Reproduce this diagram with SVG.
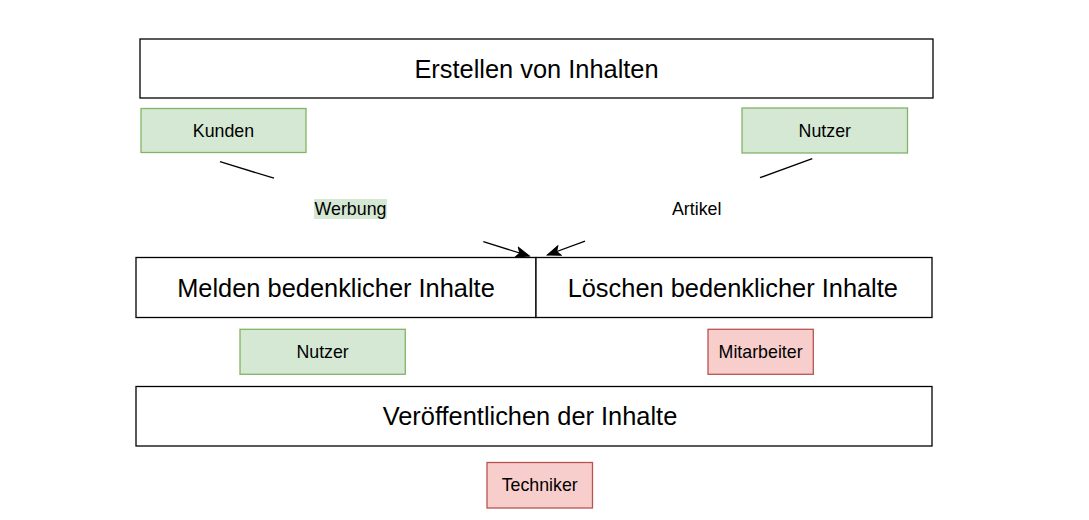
<svg xmlns="http://www.w3.org/2000/svg" width="1089" height="520" viewBox="0 0 1089 520">
<style>
.box{fill:#ffffff;stroke:#000000;stroke-width:1.3}
.green{fill:#d5e8d4;stroke:#82b366;stroke-width:1.3}
.red{fill:#f8cecc;stroke:#b85450;stroke-width:1.3}
.big{font-family:"Liberation Sans",Arial,sans-serif;font-size:25.4px;fill:#000;text-anchor:middle}
.small{font-family:"Liberation Sans",Arial,sans-serif;font-size:17.8px;fill:#000;text-anchor:middle}
.edge{stroke:#000;stroke-width:1.3;fill:none}
</style>
<defs>
<marker id="arrow" markerUnits="userSpaceOnUse" markerWidth="16" markerHeight="12" refX="14" refY="6" orient="auto" viewBox="0 0 16 12">
<path d="M14,6 L1,1 L4,6 L1,11 Z" fill="#000" stroke="#000" stroke-width="1"/>
</marker>
</defs>
<rect width="1089" height="520" fill="#ffffff"/>
<g id="erstellen">
<rect class="box" x="140" y="39" width="793" height="59"/>
<text class="big" x="536.5" y="77.6">Erstellen von Inhalten</text>
</g>
<g id="kunden">
<rect class="green" x="141" y="108.5" width="165" height="44"/>
<text class="small" x="223.5" y="136.9">Kunden</text>
</g>
<g id="nutzer-top">
<rect class="green" x="742" y="108" width="165.5" height="45"/>
<text class="small" x="824.8" y="136.9">Nutzer</text>
</g>
<g id="connectors">
<line class="edge" x1="220" y1="161.7" x2="274" y2="178.2"/>
<line class="edge" x1="483.3" y1="241.6" x2="529.3" y2="256" marker-end="url(#arrow)"/>
<line class="edge" x1="812.3" y1="158.7" x2="760" y2="177.7"/>
<line class="edge" x1="585" y1="241.2" x2="547.3" y2="255" marker-end="url(#arrow)"/>
</g>
<g id="label-werbung">
<rect x="314" y="199" width="73" height="20" fill="#d5e8d4"/>
<text class="small" x="350.5" y="215.4">Werbung</text>
</g>
<g id="label-artikel">
<text class="small" x="696.7" y="215.4">Artikel</text>
</g>
<g id="melden">
<rect class="box" x="136" y="257.5" width="400" height="60"/>
<text class="big" x="336" y="296.6">Melden bedenklicher Inhalte</text>
</g>
<g id="loeschen">
<rect class="box" x="536" y="257.5" width="396" height="60"/>
<text class="big" x="732.8" y="296.6">Löschen bedenklicher Inhalte</text>
</g>
<g id="nutzer-mid">
<rect class="green" x="240" y="329.3" width="165.3" height="45"/>
<text class="small" x="322.6" y="357.9">Nutzer</text>
</g>
<g id="mitarbeiter">
<rect class="red" x="708" y="329.3" width="105.3" height="45"/>
<text class="small" x="760.6" y="357.9">Mitarbeiter</text>
</g>
<g id="veroeffentlichen">
<rect class="box" x="136" y="386.5" width="796" height="59.5"/>
<text class="big" x="530" y="425.1">Veröffentlichen der Inhalte</text>
</g>
<g id="techniker">
<rect class="red" x="487" y="462.5" width="105.5" height="45.5"/>
<text class="small" x="539.7" y="491.4">Techniker</text>
</g>
</svg>
